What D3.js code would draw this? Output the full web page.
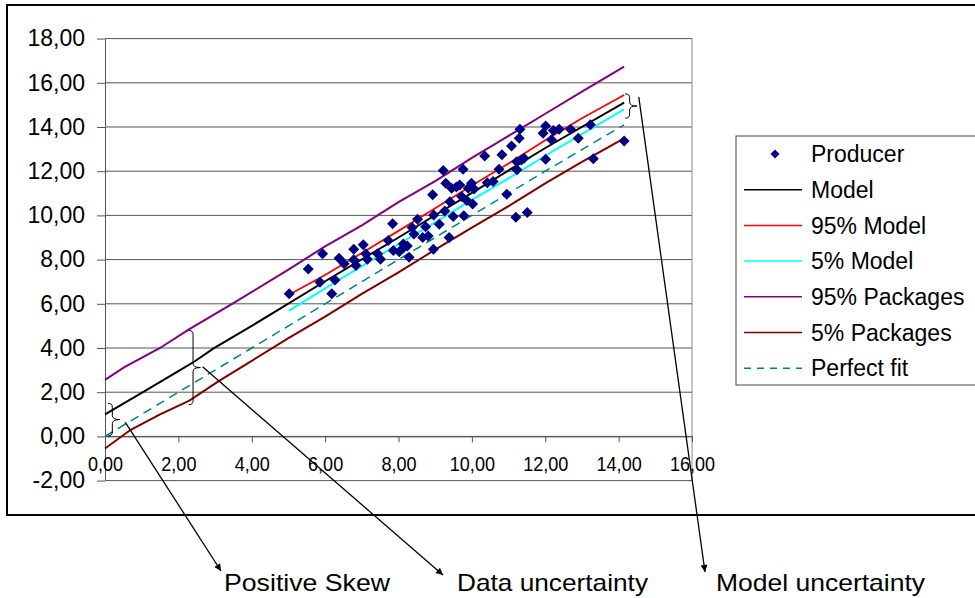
<!DOCTYPE html>
<html>
<head>
<meta charset="utf-8">
<script src="https://cdn.jsdelivr.net/npm/d3@7"></script>
<style>
  body { margin: 0; background: #fff; }
  svg { display: block; font-family: "Liberation Sans", Arial, sans-serif; }
</style>
</head>
<body>
<div class="container"></div>
<script>
const WIDTH = 975;
const HEIGHT = 598;

// tick values
const xTicks = [0, 2, 4, 6, 8, 10, 12, 14, 16];
const yTicks = [-2, 0, 2, 4, 6, 8, 10, 12, 14, 16, 18];

// series: [x, y]
const producer = [
  [5.02, 6.45], [5.54, 7.57], [5.93, 8.26], [5.86, 6.98], [6.27, 7.08], [6.18, 6.45],
  [6.38, 8.06], [6.52, 7.81], [6.78, 8.47], [7.04, 8.67], [6.78, 7.99], [6.84, 7.73],
  [7.11, 8.26], [7.15, 8.02], [7.43, 8.26], [7.51, 8.02], [7.72, 8.86], [7.84, 9.62],
  [7.86, 8.41], [8.02, 8.36], [8.13, 8.71], [8.13, 8.52], [8.24, 8.62], [8.29, 8.11],
  [8.37, 9.45], [8.42, 9.16], [8.52, 9.83], [8.66, 9.00], [8.74, 9.49], [8.81, 9.07],
  [8.95, 8.47], [8.93, 10.93], [8.96, 10.02], [9.11, 9.60], [9.22, 12.03], [9.26, 10.20],
  [9.29, 11.46], [9.38, 9.00], [9.40, 10.62], [9.45, 11.23], [9.49, 9.95], [9.58, 11.28],
  [9.67, 11.38], [9.72, 10.85], [9.76, 12.09], [9.78, 9.98], [9.86, 10.67], [9.90, 11.23],
  [9.99, 11.46], [10.02, 10.52], [10.06, 11.19], [10.35, 12.69], [10.42, 11.48], [10.58, 11.53],
  [10.74, 12.09], [10.82, 12.74], [10.95, 10.96], [11.08, 13.14], [11.20, 9.92], [11.22, 12.43],
  [11.23, 12.06], [11.29, 13.49], [11.31, 13.90], [11.35, 12.51], [11.42, 12.59], [11.51, 10.13],
  [11.94, 13.72], [12.01, 14.05], [12.01, 12.54], [12.17, 13.42], [12.22, 13.84], [12.38, 13.90],
  [12.69, 13.90], [12.90, 13.49], [13.23, 14.10], [13.31, 12.56], [14.15, 13.37]
];
const model = [[0, 1.0], [1, 1.97], [2, 2.95], [2.45, 3.4], [2.95, 3.97], [4, 5.0], [6, 7.02],
  [8, 9.0], [10, 11.02], [12, 13.05], [14.15, 15.1]];
const model95 = [[5.04, 6.43], [6, 7.3], [7, 8.3], [8, 9.3], [9, 10.32], [10, 11.35], [11, 12.35],
  [12, 13.4], [13, 14.4], [14.15, 15.45]];
const model5 = [[5.01, 5.68], [6, 6.7], [7, 7.7], [8, 8.7], [9, 9.68], [10, 10.7], [11, 11.68],
  [12, 12.7], [13, 13.68], [14.15, 14.8]];
const packages95 = [[0, 2.56], [0.53, 3.13], [1.5, 4.0], [2.3, 4.85], [3.5, 6.03], [5, 7.55], [6, 8.6],
  [7, 9.55], [8, 10.6], [9, 11.55], [10, 12.6], [11, 13.6], [12, 14.6], [13, 15.6], [14.15, 16.73]];
const packages5 = [[0, -0.55], [0.7, 0.3], [1.5, 1.0], [2.3, 1.62], [3.1, 2.5], [4, 3.42], [5, 4.45],
  [6, 5.42], [7, 6.45], [8, 7.42], [9, 8.45], [10, 9.45], [11, 10.42], [12, 11.45], [13, 12.42],
  [14.15, 13.49]];
const perfectFit = [[0, 0], [2, 2], [4, 4], [6, 6], [8, 8], [10, 10], [12, 12], [14.15, 14.1]];

const seriesNames = ["Producer", "Model", "95% Model", "5% Model", "95% Packages", "5% Packages", "Perfect fit"];
const annotationLabels = ["Positive Skew", "Data uncertainty", "Model uncertainty"];

var fmt = function (v) {
    return d3.format(".2f")(v).replace(".", ",").replace("\u2212", "-");
};

var svg = d3.select('.container').append('svg')
    .attr('width', WIDTH)
    .attr('height', HEIGHT);

svg.append('rect').attr('width', WIDTH).attr('height', HEIGHT).attr('fill', '#fff');

// chart area border (runs off the right edge)
svg.append('rect')
    .attr('x', 7).attr('y', 5)
    .attr('width', 990).attr('height', 510)
    .attr('fill', 'none').attr('stroke', '#000').attr('stroke-width', 2);

var x = d3.scaleLinear().domain([0, 16]).range([105, 692]);
var y = d3.scaleLinear().domain([-2, 18]).range([480.6, 38.6]);

// grid
svg.append('g').selectAll('line')
    .data(yTicks)
    .join('line')
    .attr('x1', x(0)).attr('x2', x(16))
    .attr('y1', d => y(d)).attr('y2', d => y(d))
    .attr('stroke', '#555').attr('stroke-width', 1);

svg.append('line')
    .attr('x1', x(16)).attr('x2', x(16))
    .attr('y1', y(18)).attr('y2', y(-2))
    .attr('stroke', '#888');

// y axis
var yAxis = svg.append('g')
    .attr('transform', 'translate(' + x(0) + ',0)')
    .call(d3.axisLeft(y).tickValues(yTicks).tickFormat(fmt).tickSize(8).tickSizeOuter(0).tickPadding(12));
yAxis.select('.domain').attr('stroke', '#555');
yAxis.selectAll('.tick line').attr('stroke', '#555');
yAxis.selectAll('text').attr('font-size', 23).attr('fill', '#000')
    .attr('font-family', '"Liberation Sans", Arial, sans-serif');

// x axis on the zero line
var xAxis = svg.append('g')
    .attr('transform', 'translate(0,' + y(0) + ')')
    .call(d3.axisBottom(x).tickValues(xTicks).tickFormat(fmt).tickSize(6).tickSizeOuter(0).tickPadding(14));
xAxis.select('.domain').attr('stroke', '#555');
xAxis.selectAll('.tick line').attr('stroke', '#555');
xAxis.selectAll('text').attr('font-size', 21).attr('fill', '#000')
    .attr('font-family', '"Liberation Sans", Arial, sans-serif')
    .attr('transform', 'scale(0.86,1)');

// lines
var line = d3.line().x(d => x(d[0])).y(d => y(d[1]));

var lineSeries = [
    { data: perfectFit, color: '#008080', width: 1.5, dash: '9,6' },
    { data: packages5, color: '#800000', width: 2 },
    { data: packages95, color: '#800080', width: 2 },
    { data: model5, color: '#00ffff', width: 2 },
    { data: model95, color: '#ff0000', width: 1.8 },
    { data: model, color: '#000', width: 2 }
];

svg.append('g').selectAll('path')
    .data(lineSeries)
    .join('path')
    .attr('d', d => line(d.data))
    .attr('fill', 'none')
    .attr('stroke', d => d.color)
    .attr('stroke-width', d => d.width)
    .attr('stroke-dasharray', d => d.dash || null);

// producer points
var diamond = function (r) {
    return 'M0,' + (-r) + 'L' + r + ',0L0,' + r + 'L' + (-r) + ',0Z';
};
svg.append('g').selectAll('path')
    .data(producer)
    .join('path')
    .attr('transform', d => 'translate(' + x(d[0]) + ',' + y(d[1]) + ')')
    .attr('d', diamond(5.5))
    .attr('fill', '#000080');

// braces "}"
var brace = function (bx, top, bottom, tip) {
    var mid = (top + bottom) / 2;
    var w = tip - bx;
    return 'M' + (bx - w * 0.6) + ',' + top +
        'Q' + bx + ',' + top + ' ' + bx + ',' + (top + 4) +
        'L' + bx + ',' + (mid - 4) +
        'Q' + bx + ',' + mid + ' ' + tip + ',' + mid +
        'Q' + bx + ',' + mid + ' ' + bx + ',' + (mid + 4) +
        'L' + bx + ',' + (bottom - 4) +
        'Q' + bx + ',' + bottom + ' ' + (bx - w * 0.6) + ',' + bottom;
};
var braces = [
    { x: 0.2, top: 1.5, bottom: 0.02, tip: 0.4 },
    { x: 2.4, top: 4.8, bottom: 1.43, tip: 2.6 },
    { x: 14.3, top: 15.5, bottom: 14.4, tip: 14.5 }
];
svg.append('g').selectAll('path')
    .data(braces)
    .join('path')
    .attr('d', d => brace(x(d.x), y(d.top), y(d.bottom), x(d.tip)))
    .attr('fill', 'none').attr('stroke', '#000').attr('stroke-width', 1);

// arrows to labels
svg.append('defs').append('marker')
    .attr('id', 'arrow')
    .attr('viewBox', '0 0 10 10')
    .attr('refX', 10).attr('refY', 5)
    .attr('markerWidth', 10).attr('markerHeight', 7)
    .attr('markerUnits', 'userSpaceOnUse')
    .attr('orient', 'auto')
    .append('path').attr('d', 'M0,0L10,5L0,10Z').attr('fill', '#000');

var arrows = [
    { from: [x(0.55), y(0.65)], to: [221, 571] },
    { from: [x(2.66), y(3.15)], to: [443, 575] },
    { from: [x(14.55), y(15.35)], to: [705, 572] }
];
svg.append('g').selectAll('line')
    .data(arrows)
    .join('line')
    .attr('x1', d => d.from[0]).attr('y1', d => d.from[1])
    .attr('x2', d => d.to[0]).attr('y2', d => d.to[1])
    .attr('stroke', '#000').attr('stroke-width', 1.3)
    .attr('marker-end', 'url(#arrow)');

var labelPos = [[224, 166], [457, 191], [716, 209]];
svg.append('g').selectAll('text')
    .data(annotationLabels)
    .join('text')
    .attr('x', (d, i) => labelPos[i][0])
    .attr('y', 591)
    .attr('textLength', (d, i) => labelPos[i][1])
    .attr('lengthAdjust', 'spacingAndGlyphs')
    .attr('font-size', 24)
    .text(d => d);

// legend
var legend = svg.append('g');
legend.append('rect')
    .attr('x', 736).attr('y', 136)
    .attr('width', 260).attr('height', 249)
    .attr('fill', '#fff').attr('stroke', '#444').attr('stroke-width', 1);

var legendStyles = [
    { marker: true },
    { color: '#000' },
    { color: '#ff0000' },
    { color: '#00ffff' },
    { color: '#800080' },
    { color: '#800000' },
    { color: '#008080', dash: '7,6' }
];
var items = legend.selectAll('g')
    .data(seriesNames)
    .join('g')
    .attr('transform', (d, i) => 'translate(0,' + (154 + i * 35.7) + ')');

items.each(function (d, i) {
    var g = d3.select(this);
    var st = legendStyles[i];
    if (st.marker) {
        g.append('path').attr('d', diamond(4.5)).attr('transform', 'translate(775,0)').attr('fill', '#000080');
    } else {
        g.append('line')
            .attr('x1', 744).attr('x2', 802)
            .attr('stroke', st.color).attr('stroke-width', 1.5)
            .attr('stroke-dasharray', st.dash || null);
    }
});
items.append('text')
    .attr('x', 811).attr('dy', '0.36em')
    .attr('font-size', 23)
    .text(d => d);
</script>
</body>
</html>
